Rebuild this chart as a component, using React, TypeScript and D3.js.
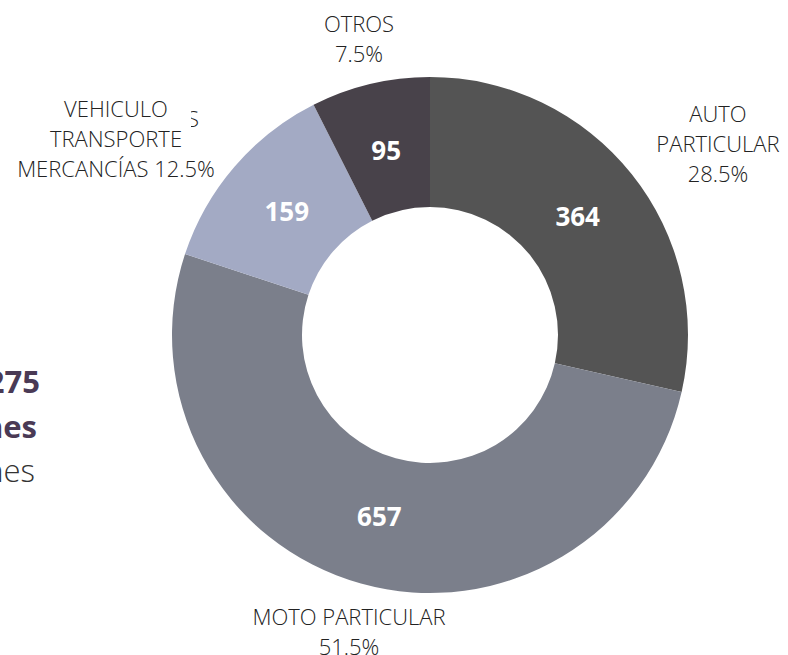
import React from "react";
import * as d3 from "d3";

const categories = ["AUTO PARTICULAR", "MOTO PARTICULAR", "VEHICULO TRANSPORTE MERCANCÍAS", "OTROS"];
const values = [364, 657, 159, 95];
const colors = ["#545454", "#7b7f8b", "#a3aac4", "#48424a"];
const labelLines = [
  ["AUTO", "PARTICULAR", "28.5%"],
  ["MOTO PARTICULAR", "51.5%"],
  ["VEHICULO", "TRANSPORTE", "MERCANCÍAS 12.5%"],
  ["OTROS", "7.5%"],
];
const labelPos = [
  [718, 122],
  [349, 625],
  [116, 117],
  [359, 32],
];
const sideText = ["1.275", "lesiones", "en colisiones"];

const W = 788;
const H = 655;
const cx = 430;
const cy = 335;
const R = 258;
const r0 = 128;

export default function App() {
  const pie = d3.pie<number>().sort(null).value((d) => d)(values);
  const arc = d3.arc<d3.PieArcDatum<number>>().innerRadius(r0).outerRadius(R);
  const labelArc = d3.arc<d3.PieArcDatum<number>>().innerRadius(189).outerRadius(189);
  const font = "'Open Sans', 'Noto Sans', sans-serif";
  return (
    <svg width={W} height={H} style={{ position: "absolute", left: 0, top: 0 }} fontFamily={font}>
      <defs>
        <clipPath id="sclip">
          <rect x={191} y={95} width={20} height={40} />
        </clipPath>
      </defs>
      <g fill="#4a3a55">
        <text x={40} y={393} textAnchor="end" fontSize={31} fontWeight={700}>{sideText[0]}</text>
        <text x={37} y={438} textAnchor="end" fontSize={31} fontWeight={700}>{sideText[1]}</text>
        <text x={35} y={482} textAnchor="end" fontSize={31} fontWeight={300} fill="#333">{sideText[2]}</text>
      </g>
      <g transform={`translate(${cx},${cy})`}>
        {pie.map((p, i) => (
          <path key={categories[i]} d={arc(p) || ""} fill={colors[i]} />
        ))}
        {pie.map((p, i) => {
          const [x, y] = labelArc.centroid(p);
          return (
            <text key={"v" + i} x={x} y={y} dy="0.35em" textAnchor="middle" fill="#fff" fontSize={26} fontWeight={700}>
              {values[i]}
            </text>
          );
        })}
      </g>
      <text x={199} y={127} textAnchor="end" fontSize={22} fontWeight={300} fill="#222" clipPath="url(#sclip)">BUSES</text>
      {labelLines.map((lines, i) => (
        <text key={"l" + i} textAnchor="middle" fontSize={22} fontWeight={300} fill="#222">
          {lines.map((ln, j) => (
            <tspan key={j} x={labelPos[i][0]} y={labelPos[i][1] + j * 30}>{ln}</tspan>
          ))}
        </text>
      ))}
    </svg>
  );
}
